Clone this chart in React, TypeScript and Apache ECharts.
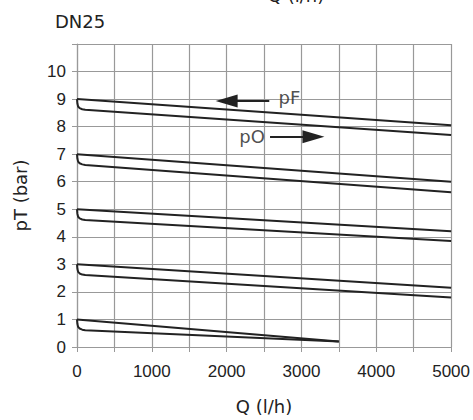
import React, { useEffect, useRef } from "react";
import * as echarts from "echarts";

// x ticks (Q in l/h) and y range (pT in bar)
const xTicks = [0, 500, 1000, 1500, 2000, 2500, 3000, 3500, 4000, 4500, 5000];
const yMax = 11;

// pF (upper, straight) and pO (lower, with initial drop) curves for set pressures 9,7,5,3,1 bar
const pF9 = [[0, 9.0], [5000, 8.05]];
const pO9 = [[0, 9.0], [5, 8.84], [15, 8.73], [35, 8.67], [70, 8.63], [110, 8.61], [5000, 7.7]];
const pF7 = [[0, 7.0], [5000, 6.0]];
const pO7 = [[0, 7.0], [5, 6.84], [15, 6.73], [35, 6.67], [70, 6.63], [110, 6.61], [5000, 5.62]];
const pF5 = [[0, 5.0], [5000, 4.2]];
const pO5 = [[0, 5.0], [5, 4.84], [15, 4.73], [35, 4.67], [70, 4.63], [110, 4.61], [5000, 3.85]];
const pF3 = [[0, 3.0], [5000, 2.15]];
const pO3 = [[0, 3.0], [5, 2.84], [15, 2.73], [35, 2.67], [70, 2.63], [110, 2.61], [5000, 1.8]];
const pF1 = [[0, 1.0], [3500, 0.2]];
const pO1 = [[0, 1.0], [5, 0.84], [15, 0.73], [35, 0.67], [70, 0.63], [110, 0.61], [3500, 0.2]];

const curves = [pF9, pO9, pF7, pO7, pF5, pO5, pF3, pO3, pF1, pO1];

// annotations: arrows (from, to) and labels
const arrowPF = [[2570, 8.93], [2000, 8.93]];
const arrowPO = [[2580, 7.63], [3160, 7.63]];
const labels = [
  { name: "pF", value: [2840, 9.06] },
  { name: "pO", value: [2340, 7.64] },
];

const INK = "#222";
const GRID = "#999";

export default function App() {
  const ref = useRef<HTMLDivElement>(null);
  useEffect(() => {
    if (!ref.current) return;
    const chart = echarts.init(ref.current, null, { renderer: "svg" });
    const series: any[] = curves.map((d, i) => ({
      type: "line",
      name: "c" + i,
      data: d,
      showSymbol: false,
      smooth: false,
      lineStyle: { color: INK, width: 2 },
      silent: true,
    }));
    series.push({
      type: "line",
      name: "arrows",
      data: [],
      silent: true,
      markLine: {
        silent: true,
        symbol: ["none", "triangle"],
        symbolSize: [13, 22],
        label: { show: false },
        lineStyle: { color: INK, width: 2, type: "solid" },
        itemStyle: { color: INK },
        data: [
          [{ coord: arrowPF[0] }, { coord: arrowPF[1] }],
          [{ coord: arrowPO[0] }, { coord: arrowPO[1] }],
        ],
      },
    });
    series.push({
      type: "scatter",
      name: "labels",
      data: labels,
      symbolSize: 0,
      silent: true,
      label: {
        show: true,
        position: "inside",
        formatter: "{b}",
        color: INK,
        fontSize: 18,
        fontFamily: "DejaVu Sans",
      },
    });

    chart.setOption({
      animation: false,
      backgroundColor: "#fff",
      title: {
        text: "DN25",
        left: 55,
        top: 12,
        padding: 0,
        textStyle: { color: INK, fontSize: 18, fontWeight: "normal", fontFamily: "DejaVu Sans" },
      },
      graphic: [
        {
          type: "text",
          x: 296,
          y: -14,
          style: {
            text: "Q (l/h)",
            fill: INK,
            font: "18px 'DejaVu Sans'",
            textAlign: "center",
            textVerticalAlign: "top",
          },
        },
      ],
      grid: { left: 77, right: 18, top: 44, bottom: 71, containLabel: false },
      xAxis: {
        type: "value",
        min: xTicks[0],
        max: xTicks[xTicks.length - 1],
        interval: 500,
        name: "Q (l/h)",
        nameLocation: "middle",
        nameGap: 50,
        nameTextStyle: { color: INK, fontSize: 18, fontFamily: "DejaVu Sans" },
        axisLine: { lineStyle: { color: GRID, width: 1.2 } },
        axisTick: { show: true, length: 5, lineStyle: { color: GRID } },
        axisLabel: {
          color: INK,
          fontSize: 17,
          fontFamily: "Liberation Sans",
          margin: 16,
          formatter: (v: number) => (v % 1000 === 0 ? String(v) : ""),
        },
        splitLine: { show: true, lineStyle: { color: GRID, width: 1.2 } },
      },
      yAxis: {
        type: "value",
        min: 0,
        max: yMax,
        interval: 1,
        name: "pT (bar)",
        nameLocation: "middle",
        nameGap: 48,
        nameRotate: 90,
        nameTextStyle: { color: INK, fontSize: 18, fontFamily: "DejaVu Sans" },
        axisLine: { show: true, lineStyle: { color: GRID, width: 1.2 } },
        axisTick: { show: true, length: 5, lineStyle: { color: GRID } },
        axisLabel: {
          color: INK,
          fontSize: 17,
          fontFamily: "Liberation Sans",
          margin: 11,
          formatter: (v: number) => (v >= yMax ? "" : String(v)),
        },
        splitLine: { show: true, lineStyle: { color: GRID, width: 1.2 } },
      },
      series,
    });
    return () => chart.dispose();
  }, []);
  return <div ref={ref} style={{ width: 473, height: 420, position: "absolute", left: 0, top: 0 }} />;
}
